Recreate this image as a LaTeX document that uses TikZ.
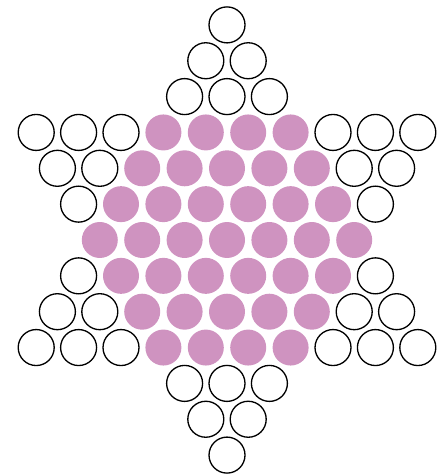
\documentclass[tikz,border=0pt]{standalone}
\usepackage{xcolor}
\definecolor{pegpink}{RGB}{207,147,192}

\begin{document}
\begin{tikzpicture}[
    x=0.02cm, y=-0.02cm,
    hole/.style={draw=black, line width=0.75pt, fill=white},
    peg/.style={fill=pegpink}
]
\useasboundingbox (0,0) rectangle (445,475);

% star board: rows r, half-columns k
\foreach \r in {-6,...,6}{
  \foreach \k in {-12,...,12}{
    % 0 = outside, 1 = point of the star, 2 = centre hexagon
    \pgfmathtruncatemacro{\kind}{iseven(\k+\r)*((abs(\k)<\r+7)*(\r<4)+(abs(\k)<7-\r)*(\r>-4))}
    \pgfmathsetmacro{\px}{227+21.2*\k}
    \pgfmathsetmacro{\py}{240+35.85*\r}
    \ifcase\kind
    \or \draw[hole] (\px,\py) circle[radius=0.36cm];
    \or \fill[peg] (\px,\py) circle[radius=0.36cm];
    \fi
  }
}

\end{tikzpicture}
\end{document}
